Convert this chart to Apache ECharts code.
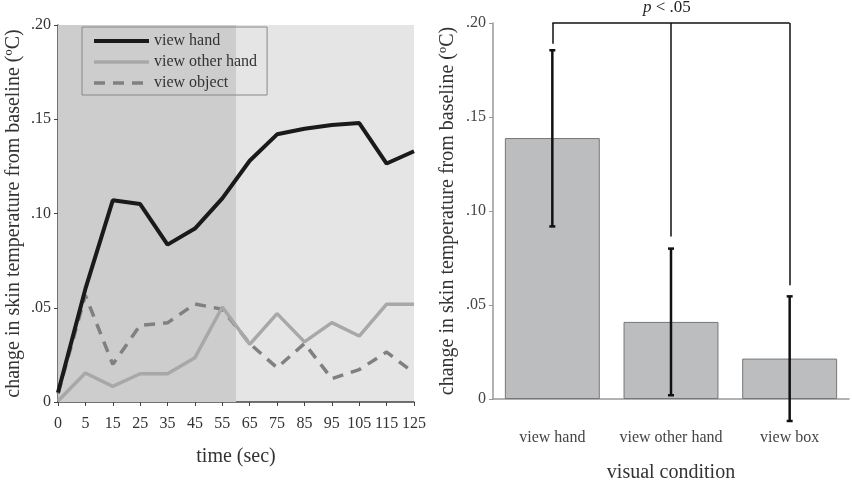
<!DOCTYPE html>
<html>
<head>
<meta charset="utf-8">
<script src="https://cdn.jsdelivr.net/npm/echarts@6/dist/echarts.min.js"></script>
<style>
  html, body { margin: 0; padding: 0; background: #fff; }
  #chart { width: 852px; height: 484px; }
</style>
</head>
<body>
<div id="chart"></div>
<script>
// left panel: time course
const timeLabels = ['0', '5', '15', '25', '35', '45', '55', '65', '75', '85', '95', '105', '115', '125'];
const viewHand = [0.005, 0.060, 0.107, 0.105, 0.0835, 0.092, 0.108, 0.128, 0.142, 0.145, 0.147, 0.148, 0.1265, 0.133];
const viewOtherHand = [0.0005, 0.0154, 0.0083, 0.015, 0.015, 0.0235, 0.0504, 0.0306, 0.0469, 0.0319, 0.0421, 0.035, 0.0519, 0.0519];
const viewObject = [0.0044, 0.0566, 0.020, 0.0407, 0.042, 0.052, 0.0492, 0.031, 0.0182, 0.031, 0.0124, 0.0172, 0.0265, 0.0154];
// shaded span, in category-index units (0 .. 60 sec)
const shadeSpan = [0, 6.5];

// right panel: means with error bars
const conditions = ['view hand', 'view other hand', 'view box'];
const condMeans = [0.1388, 0.041, 0.0215];
const errLow = [0.0918, 0.002, -0.0117];
const errHigh = [0.1855, 0.080, 0.0546];
// significance bracket: top level and where each drop ends
const bracketTop = 0.20;
const bracketEnds = [0.189, 0.0865, 0.0605];

const FONT = '"Liberation Serif", "DejaVu Serif", serif';
const fmt = v => v === 0 ? '0' : v.toFixed(2).replace(/^0/, '');
const yName = 'change in skin temperature from baseline (ºC)';

const chart = echarts.init(document.getElementById('chart'));

const option = {
  animation: false,
  textStyle: { fontFamily: FONT },
  graphic: [{
    type: 'text',
    left: 643,
    top: -1,
    style: {
      text: '{i|p} < .05',
      fill: '#222',
      font: '17px ' + FONT,
      rich: { i: { fontStyle: 'italic', fontSize: 17, fontFamily: FONT, fill: '#222' } }
    }
  }],
  legend: {
    orient: 'vertical',
    left: 82,
    top: 27,
    padding: [6, 10, 4, 10],
    itemGap: 5,
    itemWidth: 55,
    itemHeight: 15,
    borderColor: '#888',
    borderWidth: 1,
    itemStyle: { color: 'rgba(0,0,0,0)', borderWidth: 0 },
    lineStyle: { width: 'inherit' },
    data: ['view hand', 'view other hand', 'view object'],
    textStyle: { fontFamily: FONT, fontSize: 16, color: '#333' }
  },
  grid: [
    { left: 58, right: 438, top: 25, bottom: 82, outerBoundsMode: 'none', show: true, backgroundColor: '#e5e5e5', borderWidth: 0 },
    { left: 493, right: 3, top: 23, bottom: 85, outerBoundsMode: 'none' }
  ],
  xAxis: [
    {
      gridIndex: 0,
      type: 'category',
      data: timeLabels,
      boundaryGap: false,
      name: 'time (sec)',
      nameLocation: 'middle',
      nameGap: 45,
      nameTextStyle: { fontFamily: FONT, fontSize: 20, color: '#333' },
      axisLine: { lineStyle: { color: '#444', width: 1.5 } },
      axisTick: { show: true, length: 4, interval: 0, lineStyle: { color: '#444' } },
      axisLabel: { fontFamily: FONT, fontSize: 16, color: '#333', margin: 14, interval: 0, hideOverlap: false },
      splitLine: { show: false }
    },
    {
      gridIndex: 0,
      type: 'value',
      min: 0,
      max: timeLabels.length - 1,
      show: false
    },
    {
      gridIndex: 1,
      type: 'category',
      data: conditions,
      name: 'visual condition',
      nameLocation: 'middle',
      nameGap: 64,
      nameTextStyle: { fontFamily: FONT, fontSize: 20, color: '#333' },
      axisLine: { lineStyle: { color: '#999', width: 1.5 } },
      axisTick: { show: false },
      axisLabel: { fontFamily: FONT, fontSize: 16, color: '#444', margin: 31, interval: 0, hideOverlap: false }
    }
  ],
  yAxis: [
    {
      gridIndex: 0,
      type: 'value',
      min: 0,
      max: 0.2,
      interval: 0.05,
      name: yName,
      nameLocation: 'middle',
      nameGap: 34,
      nameTextStyle: { fontFamily: FONT, fontSize: 20, color: '#333' },
      axisLine: { show: true, lineStyle: { color: '#444', width: 1.5 } },
      axisTick: { show: true, length: 4, lineStyle: { color: '#444' } },
      axisLabel: { fontFamily: FONT, fontSize: 16, color: '#333', margin: 7, formatter: fmt },
      splitLine: { show: false }
    },
    {
      gridIndex: 1,
      type: 'value',
      min: 0,
      max: 0.2,
      interval: 0.05,
      name: yName,
      nameLocation: 'middle',
      nameGap: 35,
      nameTextStyle: { fontFamily: FONT, fontSize: 20, color: '#333' },
      axisLine: { show: true, lineStyle: { color: '#999', width: 1.5 } },
      axisTick: { show: true, length: 4, lineStyle: { color: '#999' } },
      axisLabel: { fontFamily: FONT, fontSize: 16, color: '#444', margin: 7, formatter: fmt },
      splitLine: { show: false }
    }
  ],
  series: [
    {
      // darker shading for the first 60 s
      type: 'line',
      xAxisIndex: 1,
      yAxisIndex: 0,
      data: [],
      silent: true,
      markArea: {
        silent: true,
        itemStyle: { color: '#cdcdcd' },
        data: [[{ xAxis: shadeSpan[0] }, { xAxis: shadeSpan[1] }]]
      }
    },
    {
      name: 'view object',
      type: 'line',
      xAxisIndex: 0,
      yAxisIndex: 0,
      data: viewObject,
      symbol: 'none',
      color: '#808080',
      lineStyle: { color: '#808080', width: 3.5, type: [11, 8] }
    },
    {
      name: 'view other hand',
      type: 'line',
      xAxisIndex: 0,
      yAxisIndex: 0,
      data: viewOtherHand,
      symbol: 'none',
      color: '#a8a8a8',
      lineStyle: { color: '#a8a8a8', width: 3.5 }
    },
    {
      name: 'view hand',
      type: 'line',
      xAxisIndex: 0,
      yAxisIndex: 0,
      data: viewHand,
      symbol: 'none',
      color: '#1a1a1a',
      lineStyle: { color: '#1a1a1a', width: 4 }
    },
    {
      name: 'means',
      type: 'bar',
      xAxisIndex: 2,
      yAxisIndex: 1,
      data: condMeans,
      barWidth: '80%',
      itemStyle: { color: '#bcbdbf', borderColor: '#777', borderWidth: 1 },
      markLine: {
        silent: true,
        symbol: 'none',
        label: { show: false },
        lineStyle: { color: '#111', width: 1.5, type: 'solid' },
        data: [
          [{ coord: [conditions[0], bracketTop] }, { coord: [conditions[2], bracketTop] }]
        ].concat(conditions.map((c, i) => [{ coord: [c, bracketTop] }, { coord: [c, bracketEnds[i]] }]))
      }
    },
    {
      name: 'error',
      type: 'custom',
      xAxisIndex: 2,
      yAxisIndex: 1,
      data: conditions.map((c, i) => [i, errLow[i], errHigh[i]]),
      renderItem: function (params, api) {
        const lo = api.coord([api.value(0), api.value(1)]);
        const hi = api.coord([api.value(0), api.value(2)]);
        const w = 3;
        const st = { stroke: '#111', lineWidth: 2.5 };
        return {
          type: 'group',
          children: [
            { type: 'line', shape: { x1: hi[0], y1: hi[1], x2: lo[0], y2: lo[1] }, style: st },
            { type: 'line', shape: { x1: hi[0] - w, y1: hi[1], x2: hi[0] + w, y2: hi[1] }, style: st },
            { type: 'line', shape: { x1: lo[0] - w, y1: lo[1], x2: lo[0] + w, y2: lo[1] }, style: st }
          ]
        };
      },
      z: 5
    }
  ]
};

chart.setOption(option);
</script>
</body>
</html>
